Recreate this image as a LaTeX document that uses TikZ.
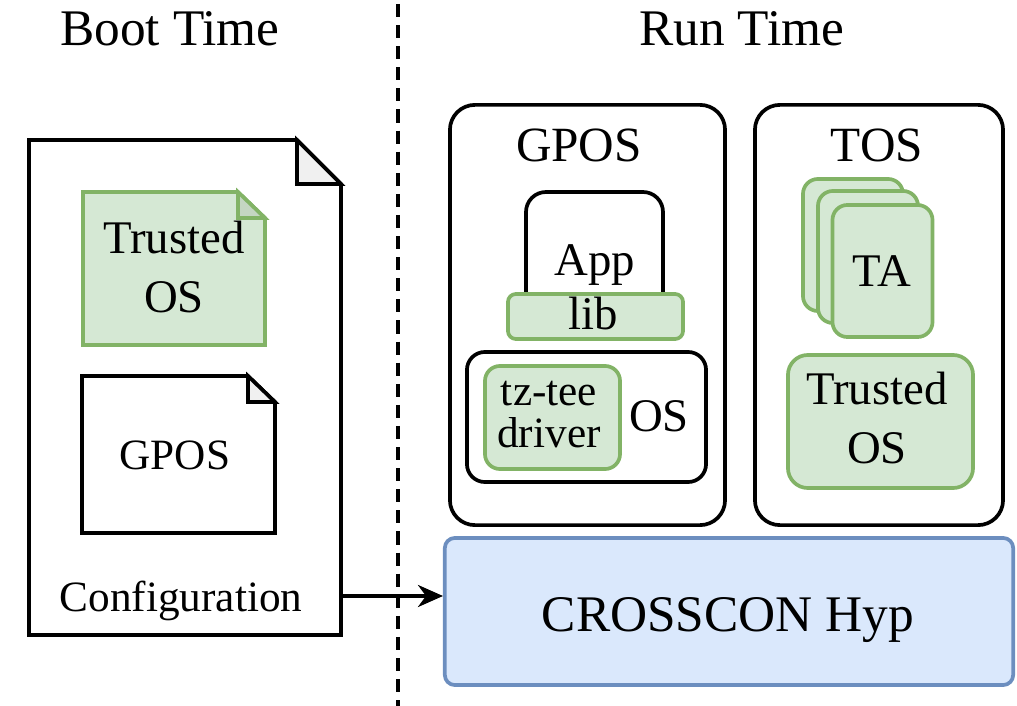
\documentclass[tikz,border=0pt]{standalone}
\usepackage{fontspec}
\setmainfont{Liberation Serif}
\usetikzlibrary{arrows.meta,positioning}

\definecolor{greenfill}{HTML}{D5E8D4}
\definecolor{greenline}{HTML}{82B366}
\definecolor{greenfold}{HTML}{C4D6C2}
\definecolor{bluefill}{HTML}{DAE8FC}
\definecolor{blueline}{HTML}{6C8EBF}
\definecolor{foldgray}{HTML}{F0F0F0}

\begin{document}
\begin{tikzpicture}[x=0.01cm,y=-0.01cm,line width=1.05pt,
    blackbox/.style={draw,rounded corners=0.25cm,inner sep=0pt},
    greenbox/.style={draw=greenline,fill=greenfill,rounded corners=0.15cm,inner sep=0pt},
    txt/.style={anchor=base,inner sep=0pt,align=center},
    big/.style={font=\fontsize{14.6}{17}\selectfont},
    hdr/.style={font=\fontsize{14}{17}\selectfont},
    mid/.style={font=\fontsize{13.3}{16.6}\selectfont},
    small/.style={font=\fontsize{12.3}{12.2}\selectfont}]
    \useasboundingbox (0,0) rectangle (1017,706);

    % boot time | run time
    \draw[dash pattern=on 3.7pt off 2.3pt] (398,4) -- (398,706);
    \node[txt,big] (boot) at (170,45) {Boot Time};
    \node[txt,big] (run) at (742,45) {Run Time};

    % configuration file
    \draw[fill=white] (29,140) -- (297,140) -- (341,184)
        -- (341,635) -- (29,635) -- cycle;
    \draw[fill=foldgray] (297,140) -- (297,184) -- (341,184) -- cycle;

    \draw[draw=greenline,fill=greenfill] (83,192) -- (238,192) -- (265,218)
        -- (265,345) -- (83,345) -- cycle;
    \draw[draw=greenline,fill=greenfold] (238,192) -- (238,218) -- (265,218) -- cycle;
    \node[txt,mid] (tosimg) at (174,312) {Trusted\\OS};

    \draw[fill=white] (82,376) -- (248,376) -- (275,402)
        -- (275,533) -- (82,533) -- cycle;
    \draw[fill=foldgray] (248,376) -- (248,402) -- (275,402) -- cycle;
    \node[txt,small] (gposimg) at (175,469) {GPOS};

    \node[txt,small] (cfg) at (181,611) {Configuration};
    \coordinate (cfgout) at (341,596);

    % hypervisor
    \node[draw=blueline,fill=bluefill,rounded corners=0.1cm,
        minimum width=5.68cm,minimum height=1.47cm] (hyp) at (729,611.5) {};
    \node[txt,big] (hyptxt) at (728,632) {CROSSCON Hyp};
    \draw[-{Stealth[length=0.25cm,width=0.22cm,inset=0.08cm]}] (cfgout) -- (cfgout -| hyp.west);

    % GPOS partition
    \node[blackbox,minimum width=2.75cm,minimum height=4.2cm] (gpos) at (587.5,315) {};
    \node[txt,hdr] (gpostxt) at (579,162) {GPOS};
    \draw[rounded corners=0.2cm] (526,300) -- (526,192) -- (663,192) -- (663,300);
    \node[txt,mid] (app) at (595,275) {App};
    \node[greenbox,rounded corners=0.08cm,minimum width=1.75cm,
        minimum height=0.45cm] (lib) at (595.5,316.5) {};
    \node[txt,mid] (libtxt) at (593,330) {lib};
    \node[blackbox,rounded corners=0.18cm,minimum width=2.39cm,
        minimum height=1.3cm] (os) at (586.5,417) {};
    \node[greenbox,minimum width=1.35cm,minimum height=1.03cm] (drv) at (552.5,417.5) {};
    \node[txt,small] (drvtxt) at (549,448) {tz-tee\\driver};
    \node[txt,mid] (ostxt) at (659,432) {OS};

    % TOS partition
    \node[blackbox,minimum width=2.48cm,minimum height=4.2cm] (tos) at (879,315) {};
    \node[txt,hdr] (tostxt) at (877,162) {TOS};
    \node[greenbox,minimum width=1cm,minimum height=1.32cm] (ta3) at (853,245) {};
    \node[greenbox,minimum width=1cm,minimum height=1.32cm] (ta2) at (868,257) {};
    \node[greenbox,minimum width=1cm,minimum height=1.32cm] (ta1) at (882.5,271) {};
    \node[txt,mid] (tatxt) at (882,287) {TA};
    \node[greenbox,rounded corners=0.2cm,minimum width=1.85cm,
        minimum height=1.33cm] (tee) at (880.5,421.5) {};
    \node[txt,mid] (teetxt) at (877,463) {Trusted\\OS};
\end{tikzpicture}
\end{document}
